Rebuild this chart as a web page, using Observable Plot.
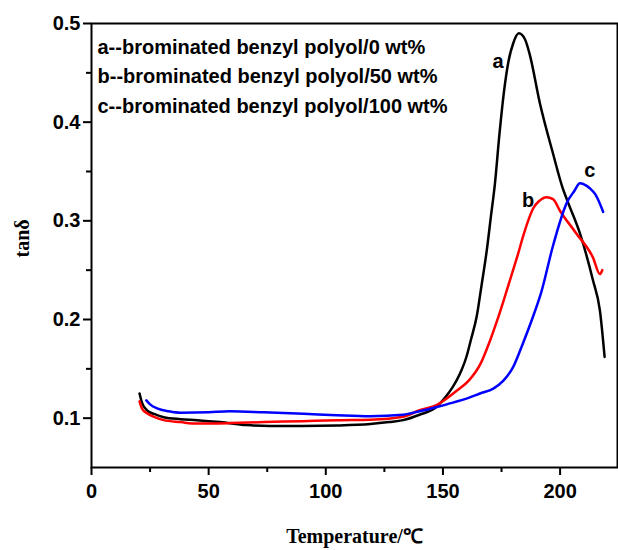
<!DOCTYPE html>
<html><head><meta charset="utf-8">
<script src="https://cdn.jsdelivr.net/npm/d3@7"></script>
<script src="https://cdn.jsdelivr.net/npm/@observablehq/plot@0.6"></script>
<style>body{margin:0;background:#fff;}</style>
</head><body><div id="chart"></div>
<script>
// Series a: brominated benzyl polyol 0 wt%
const aT = [20.5, 21.5, 23.7, 27, 30.8, 38, 45, 55, 66, 76, 90, 105, 119, 127, 133, 140, 147, 151.6, 154, 156, 158, 160, 162, 164.4, 166.5, 168.7, 170.5, 172.2, 174, 176, 178, 180, 182.4, 185, 187, 191.4, 197, 201, 203, 208.5, 214, 217, 219];
const aV = [0.125, 0.116, 0.108, 0.104, 0.101, 0.099, 0.098, 0.096, 0.093, 0.092, 0.092, 0.0925, 0.094, 0.096, 0.098, 0.1035, 0.111, 0.123, 0.131, 0.139, 0.149, 0.162, 0.180, 0.203, 0.235, 0.270, 0.305, 0.338, 0.385, 0.430, 0.462, 0.480, 0.490, 0.484, 0.469, 0.419, 0.368, 0.334, 0.321, 0.287, 0.240, 0.209, 0.162];
// Series b: 50 wt%
const bT = [20.5, 21.5, 23.7, 27, 30.8, 38, 45, 59, 73.5, 90, 105, 119, 133, 140, 147, 151.6, 156, 161, 166, 170, 173, 176, 179, 182, 184.3, 186.5, 188.6, 191, 194.2, 197, 200, 207, 214, 217, 218];
const bV = [0.117, 0.110, 0.105, 0.101, 0.098, 0.096, 0.0945, 0.095, 0.096, 0.097, 0.098, 0.0985, 0.1015, 0.108, 0.113, 0.120, 0.128, 0.138, 0.155, 0.178, 0.198, 0.220, 0.243, 0.266, 0.285, 0.301, 0.313, 0.320, 0.324, 0.322, 0.310, 0.287, 0.263, 0.246, 0.250];
// Series c: 100 wt%
const cT = [23.4, 25, 28, 33, 38, 50, 59, 73.5, 90.5, 104.7, 119, 133, 140, 147, 151.6, 161.5, 165.8, 171.5, 175.8, 180, 184, 188, 192, 197, 203, 206, 208.5, 211, 212.7, 215, 218.4];
const cV = [0.118, 0.114, 0.110, 0.107, 0.1055, 0.106, 0.107, 0.106, 0.1045, 0.103, 0.102, 0.1035, 0.107, 0.111, 0.114, 0.121, 0.125, 0.130, 0.138, 0.152, 0.175, 0.200, 0.228, 0.275, 0.319, 0.330, 0.338, 0.336, 0.333, 0.327, 0.309];

const seriesNames = ["a", "b", "c"];
const seriesColors = ["#000000", "#ff0000", "#0000ff"];
const peakLabelT = [173.5, 186.4, 212.7];
const peakLabelV = [0.461, 0.321, 0.351];
const legendLines = [
  "a--brominated benzyl polyol/0 wt%",
  "b--brominated benzyl polyol/50 wt%",
  "c--brominated benzyl polyol/100 wt%"
];
const yTicks = [0.1, 0.2, 0.3, 0.4, 0.5];
const yMinor = [0.15, 0.25, 0.35, 0.45];
const xTicks = [0, 50, 100, 150, 200];
const xMinor = [25, 75, 125, 175];
const xTitle = "Temperature/℃";
const yTitle = "tanδ";

const rows = [];
[[aT, aV], [bT, bV], [cT, cV]].forEach(([T, V], k) => {
  T.forEach((t, i) => rows.push({T: t, v: V[i], s: seriesNames[k]}));
});

const sans = "'Liberation Sans', Arial, sans-serif";
const serif = "'Liberation Serif', 'Times New Roman', serif";

const chart = Plot.plot({
  width: 618,
  height: 550,
  marginLeft: 91,
  marginRight: 1,
  marginTop: 23,
  marginBottom: 83,
  style: {fontFamily: sans, background: "#fff", color: "#000"},
  x: {domain: [0, 224.5]},
  y: {domain: [0.05, 0.5]},
  color: {domain: seriesNames, range: seriesColors},
  marks: [
    Plot.line(rows, {x: "T", y: "v", z: "s", stroke: "s", strokeWidth: 2.5, curve: "monotone-x"}),
    Plot.frame({stroke: "#000", strokeWidth: 2}),
    Plot.axisY(yTicks, {tickSize: 8, tickPadding: 3, tickFormat: d3.format(".1f"), fontSize: 20, fontWeight: "bold", fontFamily: sans, strokeWidth: 2, label: null}),
    Plot.axisY(yMinor, {tickSize: 5, tickFormat: () => "", strokeWidth: 2, label: null}),
    Plot.axisX(xTicks, {tickSize: 8, tickPadding: 8, fontSize: 20, fontWeight: "bold", fontFamily: sans, strokeWidth: 2, label: null}),
    Plot.axisX(xMinor, {tickSize: 5, tickFormat: () => "", strokeWidth: 2, label: null}),
    Plot.text(seriesNames, {x: (d, i) => peakLabelT[i], y: (d, i) => peakLabelV[i], text: d => d, fontSize: 20, fontWeight: "bold", fontFamily: sans, fill: "#000"}),
    ...legendLines.map((line, i) => Plot.text([line], {frameAnchor: "top-left", text: d => d, dx: 6, dy: 30 + i * 29.7, lineAnchor: "bottom", textAnchor: "start", fontSize: 20, fontWeight: "bold", fontFamily: sans, fill: "#000"})),
    Plot.text([xTitle], {frameAnchor: "bottom", text: d => d, dy: 69, lineAnchor: "middle", fontSize: 20, fontWeight: "bold", fontFamily: serif, fill: "#000"}),
    Plot.text([yTitle], {frameAnchor: "left", text: d => d, dx: -69, dy: 12, rotate: -90, lineAnchor: "middle", fontSize: 20, fontWeight: "bold", fontFamily: serif, fill: "#000"})
  ]
});
document.getElementById("chart").appendChild(chart);
</script>
</body></html>
